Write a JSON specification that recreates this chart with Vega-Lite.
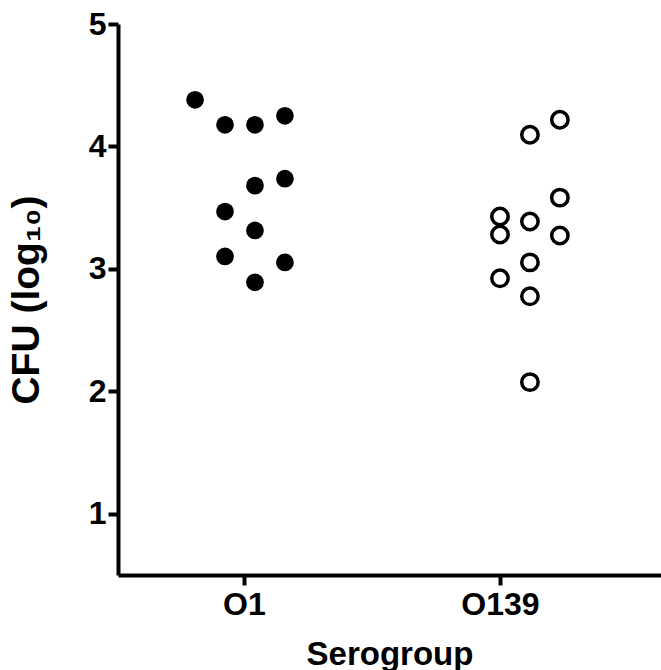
{
  "$schema": "https://vega.github.io/schema/vega-lite/v6.json",
  "width": 543,
  "height": 551,
  "autosize": "none",
  "padding": {"left": 118, "top": 24, "right": 0, "bottom": 95},
  "background": "white",
  "config": {
    "view": {"stroke": null},
    "font": "Liberation Sans",
    "axis": {
      "domainColor": "black",
      "domainWidth": 4,
      "tickColor": "black",
      "tickWidth": 4,
      "tickSize": 10,
      "grid": false,
      "labelFont": "Liberation Sans",
      "labelFontWeight": "bold",
      "labelFontSize": 32,
      "labelColor": "black",
      "titleFont": "Liberation Sans",
      "titleFontWeight": "bold",
      "titleColor": "black"
    }
  },
  "data": {
    "values": [
      {"group": "O1", "pos": 0.809, "cfu": 4.381},
      {"group": "O1", "pos": 0.926, "cfu": 4.177},
      {"group": "O1", "pos": 1.043, "cfu": 4.177},
      {"group": "O1", "pos": 1.160, "cfu": 4.25},
      {"group": "O1", "pos": 1.043, "cfu": 3.68},
      {"group": "O1", "pos": 1.160, "cfu": 3.737},
      {"group": "O1", "pos": 0.926, "cfu": 3.468},
      {"group": "O1", "pos": 1.043, "cfu": 3.314},
      {"group": "O1", "pos": 0.926, "cfu": 3.102},
      {"group": "O1", "pos": 1.160, "cfu": 3.053},
      {"group": "O1", "pos": 1.043, "cfu": 2.89},
      {"group": "O139", "pos": 2.117, "cfu": 4.096},
      {"group": "O139", "pos": 2.234, "cfu": 4.218},
      {"group": "O139", "pos": 2.234, "cfu": 3.582},
      {"group": "O139", "pos": 2.0, "cfu": 3.428},
      {"group": "O139", "pos": 2.117, "cfu": 3.387},
      {"group": "O139", "pos": 2.0, "cfu": 3.281},
      {"group": "O139", "pos": 2.234, "cfu": 3.273},
      {"group": "O139", "pos": 2.117, "cfu": 3.053},
      {"group": "O139", "pos": 2.0, "cfu": 2.923},
      {"group": "O139", "pos": 2.117, "cfu": 2.776},
      {"group": "O139", "pos": 2.117, "cfu": 2.075}
    ]
  },
  "encoding": {
    "x": {
      "field": "pos",
      "type": "quantitative",
      "scale": {"domain": [0.508, 2.629], "nice": false, "zero": false},
      "axis": {
        "values": [1, 2],
        "labelExpr": "datum.value == 1 ? 'O1' : 'O139'",
        "labelPadding": 4,
        "title": "Serogroup",
        "titleFontSize": 33,
        "titlePadding": 18
      }
    },
    "y": {
      "field": "cfu",
      "type": "quantitative",
      "scale": {"domain": [0.5, 5], "nice": false, "zero": false},
      "axis": {
        "values": [1, 2, 3, 4, 5],
        "labelPadding": 2,
        "title": "CFU (log₁₀)",
        "titleFontSize": 39,
        "titlePadding": 42
      }
    }
  },
  "layer": [
    {
      "transform": [{"filter": "datum.group == 'O1'"}],
      "mark": {"type": "point", "shape": "circle", "filled": true, "color": "black", "opacity": 1, "size": 314}
    },
    {
      "transform": [{"filter": "datum.group == 'O139'"}],
      "mark": {"type": "point", "shape": "circle", "filled": false, "stroke": "black", "fill": "white", "fillOpacity": 1, "strokeWidth": 3.5, "opacity": 1, "size": 269}
    }
  ]
}
